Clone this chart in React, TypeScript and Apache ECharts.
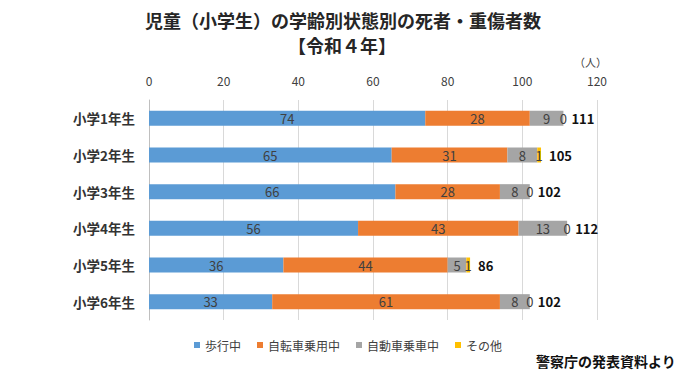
import React, { useEffect, useRef } from "react";
import * as echarts from "echarts";

const categories = ["小学1年生", "小学2年生", "小学3年生", "小学4年生", "小学5年生", "小学6年生"];
const walking = [74, 65, 66, 56, 36, 33];
const bicycle = [28, 31, 28, 43, 44, 61];
const car = [9, 8, 8, 13, 5, 8];
const other = [0, 1, 0, 0, 1, 0];
const totals = [111, 105, 102, 112, 86, 102];
const seriesNames = ["歩行中", "自転車乗用中", "自動車乗車中", "その他"];
const colors = ["#5B9BD5", "#ED7D31", "#A5A5A5", "#FFC000"];

const FONT = '"Noto Sans CJK JP", "Noto Sans", sans-serif';

export default function App() {
  const ref = useRef<HTMLDivElement>(null);
  useEffect(() => {
    if (!ref.current) return;
    const chart = echarts.init(ref.current, null, { renderer: "svg" });
    const valueLabel = {
      show: true,
      position: "inside",
      color: "#404040",
      fontSize: 13,
      fontFamily: FONT,
    };
    const datas = [walking, bicycle, car, other];
    const series: any[] = datas.map((d, i) => ({
      name: seriesNames[i],
      type: "bar",
      stack: "total",
      barWidth: 15,
      data: d,
      itemStyle: { color: colors[i] },
      label: valueLabel,
    }));
    series.push({
      name: "合計",
      type: "bar",
      stack: "total",
      barWidth: 15,
      data: totals.map(() => 0),
      itemStyle: { color: "transparent" },
      label: {
        show: true,
        position: "right",
        distance: 8,
        color: "#111",
        fontWeight: "bold",
        fontSize: 13,
        fontFamily: FONT,
        formatter: (p: any) => String(totals[p.dataIndex]),
      },
    });
    chart.setOption({
      animation: false,
      backgroundColor: "#fff",
      textStyle: { fontFamily: FONT },
      legend: {
        data: seriesNames,
        bottom: 26,
        left: 189,
        itemWidth: 6,
        itemHeight: 6,
        itemGap: 16,
        icon: "rect",
        textStyle: { fontSize: 12, color: "#404040", fontFamily: FONT },
      },
      grid: { left: 149, right: 83, top: 100, height: 220, containLabel: false },
      xAxis: {
        type: "value",
        position: "top",
        min: 0,
        max: 120,
        interval: 20,
        axisLine: { show: false },
        axisTick: { show: false },
        axisLabel: { margin: 14, fontSize: 12, color: "#404040", fontFamily: FONT },
        splitLine: { lineStyle: { color: "#D9D9D9" } },
      },
      yAxis: {
        type: "category",
        data: categories,
        inverse: true,
        axisTick: { show: false },
        axisLine: { lineStyle: { color: "#BFBFBF" } },
        axisLabel: { margin: 14, fontSize: 13.5, color: "#333", fontWeight: "bold", fontFamily: FONT },
      },
      graphic: [
        {
          type: "text",
          x: 343,
          y: 20,
          style: {
            text: "児童（小学生）の学齢別状態別の死者・重傷者数",
            fontSize: 18,
            fontWeight: "bold",
            fill: "#262626",
            fontFamily: FONT,
            align: "center",
            verticalAlign: "middle",
          },
        },
        {
          type: "text",
          x: 342,
          y: 45,
          style: {
            text: "【令和４年】",
            fontSize: 18,
            fontWeight: "bold",
            fill: "#262626",
            fontFamily: FONT,
            align: "center",
            verticalAlign: "middle",
          },
        },
        {
          type: "text",
          left: 574,
          top: 56,
          style: { text: "（人）", fontSize: 11, fill: "#404040", fontFamily: FONT },
        },
        {
          type: "text",
          right: 4,
          top: 354,
          style: { text: "警察庁の発表資料より", fontSize: 14, fontWeight: "bold", fill: "#111", fontFamily: FONT },
        },
      ],
      series,
    });
    return () => chart.dispose();
  }, []);
  return <div ref={ref} style={{ width: 680, height: 382, position: "fixed", left: 0, top: 0 }} />;
}
